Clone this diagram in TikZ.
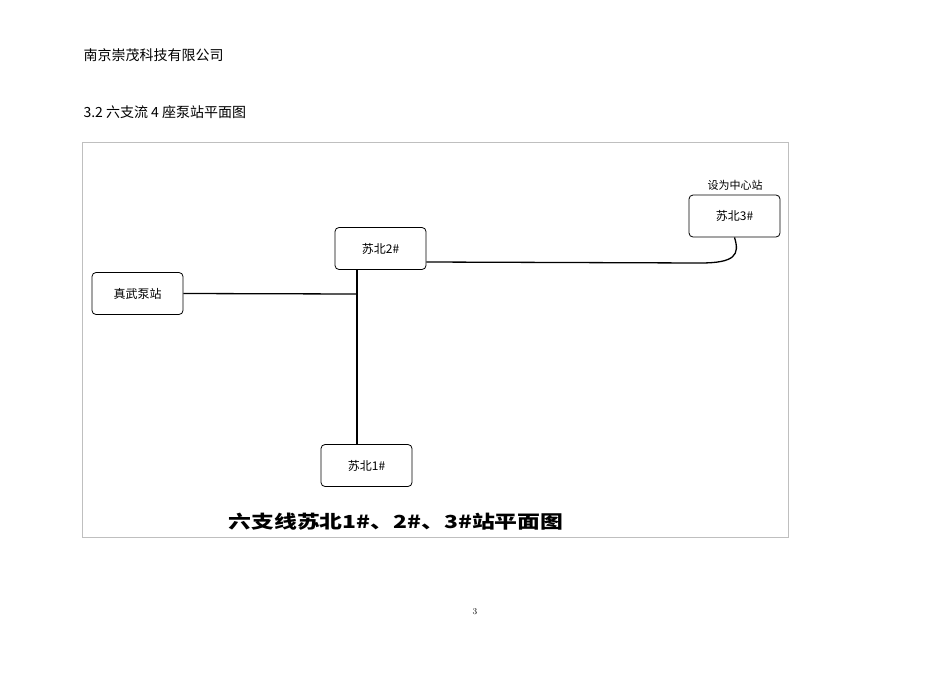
\documentclass[tikz,border=0pt]{standalone}
\usepackage{fontspec}
\setmainfont{Noto Sans CJK SC}
\newfontfamily\lmfont{Latin Modern Roman}
\begin{document}
\begin{tikzpicture}[x=1pt,y=-1pt,
  station/.style={draw,rounded corners=4pt,minimum width=91pt,minimum height=42pt,font=\fontsize{12}{14}\selectfont,line width=0.8pt},
  wire/.style={line width=1.3pt}]
\useasboundingbox (0,0) rectangle (950,672);
\node[anchor=west,font=\fontsize{14}{16}\selectfont] (hdr) at (80,55) {南京崇茂科技有限公司};
\node[anchor=west,font=\fontsize{14}{16}\selectfont] (sec) at (80,112) {3.2 六支流 4 座泵站平面图};
\draw[gray!50,line width=0.8pt] (82,142) rectangle (788,537);
\node[station] (zw) at (137.5,293.5) {真武泵站};
\node[station] (s2) at (380.5,248.5) {苏北2\#};
\node[station] (s3) at (734.5,216) {苏北3\#};
\node[station] (s1) at (366.5,465.5) {苏北1\#};
\node[font=\fontsize{11}{13}\selectfont] (lbl) at (735,185) {设为中心站};
\coordinate (j) at (357,294);
\draw[wire] (zw.east) -- (j);
\draw[wire] (s2.south -| j) -- (s1.north -| j);
\draw[wire] (s2.east |- 0,262) -- (700,263) .. controls (735,263) and (740,255) .. (s3.south);
\node[font=\fontsize{18}{20}\selectfont\bfseries,xscale=1.27] (cap) at (396,522) {六支线苏北1\#、2\#、3\#站平面图};
\node[font=\lmfont\fontsize{9}{10}\selectfont] (pg) at (475,612) {3};
\end{tikzpicture}
\end{document}
